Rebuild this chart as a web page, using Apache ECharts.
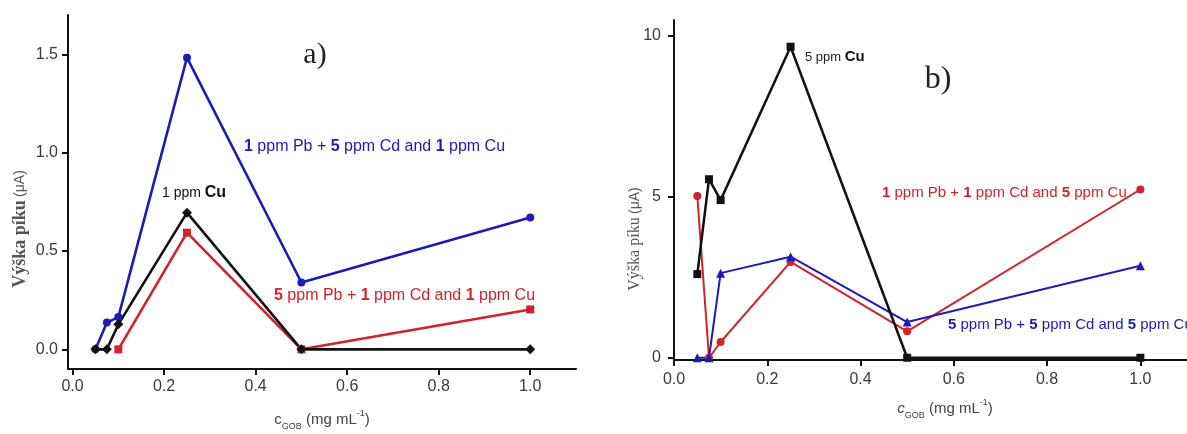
<!DOCTYPE html>
<html>
<head>
<meta charset="utf-8">
<script src="https://cdn.jsdelivr.net/npm/echarts@6/dist/echarts.min.js"></script>
<style>
  html, body { margin: 0; padding: 0; background: #fff; }
  #chart { width: 1187px; height: 434px; }
</style>
</head>
<body>
<div id="chart"></div>
<script>
// GO-B concentration (mg/mL) for each measured point
const concA = [0.05, 0.075, 0.1, 0.25, 0.5, 1.0];
const concRedA = [0.1, 0.25, 0.5, 1.0];
const concB = [0.05, 0.075, 0.1, 0.25, 0.5, 1.0];

// Panel a) peak heights (µA)
const aPb1Cd5Cu1 = [0, 0.136, 0.164, 1.483, 0.34, 0.67];
const aPb5Cd1Cu1 = [0, 0.593, 0, 0.203];
const aCu1 = [0, 0, 0.127, 0.695, 0, 0];

// Panel b) peak heights (µA)
const bPb1Cd1Cu5 = [5.03, 0, 0.49, 2.98, 0.82, 5.23];
const bPb5Cd5Cu5 = [0, 0, 2.63, 3.14, 1.11, 2.86];
const bCu5 = [2.6, 5.55, 4.9, 9.67, 0, 0];

// Tick values
const xTicks = [0, 0.2, 0.4, 0.6, 0.8, 1.0];
const yTicksA = [0, 0.5, 1.0, 1.5];
const yTicksB = [0, 5, 10];

const BLUE = '#1c1cb4';
const RED = '#d3232a';
const BLACK = '#111111';
const SANS = '"Liberation Sans", Arial, sans-serif';
const SERIF = '"Liberation Serif", "Times New Roman", serif';

function pairs(xs, ys) { return xs.map((x, i) => [x, ys[i]]); }

function xAxis(gridIndex, min, max, margin) {
  return {
    type: 'value', gridIndex, min, max,
    axisLine: { show: true, onZero: false, lineStyle: { color: BLACK, width: 2 } },
    axisTick: { show: true, length: 6, customValues: xTicks, lineStyle: { color: BLACK, width: 2 } },
    axisLabel: { customValues: xTicks, margin, color: '#3a3a3a', fontSize: 16, fontFamily: SANS,
                 formatter: v => v.toFixed(1) },
    splitLine: { show: false }
  };
}
function yAxis(gridIndex, min, max, ticks, margin, fmt) {
  return {
    type: 'value', gridIndex, min, max,
    axisLine: { show: true, onZero: false, lineStyle: { color: BLACK, width: 2 } },
    axisTick: { show: true, length: 6, customValues: ticks, lineStyle: { color: BLACK, width: 2 } },
    axisLabel: { customValues: ticks, margin, color: '#3a3a3a', fontSize: 16, fontFamily: SANS, formatter: fmt },
    splitLine: { show: false }
  };
}
function line(name, xi, data, color, symbol, width, size) {
  return {
    name, type: 'line', xAxisIndex: xi, yAxisIndex: xi, data,
    symbol, symbolSize: size, showSymbol: true,
    lineStyle: { color, width }, itemStyle: { color },
    animation: false, z: 3
  };
}

const boldRich = (color, size) => ({
  n: { fill: color, fontSize: size, fontFamily: SANS },
  b: { fill: color, fontSize: size, fontFamily: SANS, fontWeight: 'bold' }
});

function note(x, y, text, color, size) {
  return { type: 'text', x, y, z: 10,
    style: { text, fill: color, fontSize: size, fontFamily: SANS, verticalAlign: 'middle', rich: boldRich(color, size) } };
}

function xTitle(x, y, italic) {
  const c = '#444';
  return { type: 'text', x, y, z: 10,
    style: {
      text: '{c|c}{s|GOB}{t| (mg mL}{p|-1}{t|)}', align: 'center', verticalAlign: 'middle',
      rich: {
        c: { fill: c, fontSize: 15, fontFamily: SANS, fontStyle: italic ? 'italic' : 'normal', lineHeight: 22, verticalAlign: 'middle' },
        s: { fill: c, fontSize: 9, fontFamily: SANS, lineHeight: 10, verticalAlign: 'bottom' },
        t: { fill: c, fontSize: 15, fontFamily: SANS, lineHeight: 22, verticalAlign: 'middle' },
        p: { fill: c, fontSize: 9, fontFamily: SANS, lineHeight: 10, verticalAlign: 'top' }
      }
    } };
}

function yTitle(x, y, serifSize, bold, unitSize) {
  const c = '#555';
  return { type: 'text', x, y, rotation: Math.PI / 2, z: 10,
    style: {
      text: '{s|Výška píku} {u|(μA)}', align: 'center', verticalAlign: 'middle',
      rich: {
        s: { fill: c, fontSize: serifSize, fontFamily: SERIF, fontWeight: bold ? 'bold' : 'normal' },
        u: { fill: c, fontSize: unitSize, fontFamily: SANS }
      }
    } };
}

const chart = echarts.init(document.getElementById('chart'), null, { renderer: 'canvas' });
chart.setOption({
  animation: false,
  backgroundColor: '#ffffff',
  grid: [
    { left: 68, top: 15, width: 508, height: 354 },
    { left: 674, top: 20, width: 521, height: 340 }
  ],
  xAxis: [xAxis(0, -0.01, 1.1, 10), xAxis(1, 0, 1.1, 12)],
  yAxis: [
    yAxis(0, -0.1, 1.7, yTicksA, 10, v => v.toFixed(1)),
    yAxis(1, -0.07, 10.5, yTicksB, 13, v => String(v))
  ],
  series: [
    line('1 ppm Pb + 5 ppm Cd and 1 ppm Cu', 0, pairs(concA, aPb1Cd5Cu1), BLUE, 'circle', 2.6, 8),
    line('5 ppm Pb + 1 ppm Cd and 1 ppm Cu', 0, pairs(concRedA, aPb5Cd1Cu1), RED, 'rect', 2.6, 8),
    line('1 ppm Cu', 0, pairs(concA, aCu1), BLACK, 'diamond', 2.6, 10),
    line('1 ppm Pb + 1 ppm Cd and 5 ppm Cu', 1, pairs(concB, bPb1Cd1Cu5), RED, 'circle', 2, 8),
    line('5 ppm Pb + 5 ppm Cd and 5 ppm Cu', 1, pairs(concB, bPb5Cd5Cu5), BLUE, 'triangle', 2, 9),
    line('5 ppm Cu', 1, pairs(concB, bCu5), BLACK, 'rect', 2.5, 8)
  ],
  graphic: [
    { type: 'text', x: 315, y: 55, style: { text: 'a)', fill: '#222', fontSize: 30, fontFamily: SERIF, align: 'center', verticalAlign: 'middle' } },
    { type: 'text', x: 938, y: 80, style: { text: 'b)', fill: '#222', fontSize: 32, fontFamily: SERIF, align: 'center', verticalAlign: 'middle' } },
    note(244, 147, '{b|1}{n| ppm Pb + }{b|5}{n| ppm Cd and }{b|1}{n| ppm Cu}', BLUE, 16),
    note(274, 296, '{b|5}{n| ppm Pb + }{b|1}{n| ppm Cd and }{b|1}{n| ppm Cu}', RED, 16),
    { type: 'text', x: 162, y: 193, z: 10, style: { text: '{n|1 ppm }{b|Cu}', verticalAlign: 'middle',
      rich: { n: { fill: '#111', fontSize: 14, fontFamily: SANS }, b: { fill: '#111', fontSize: 16, fontWeight: 'bold', fontFamily: SANS } } } },
    note(882, 193, '{b|1}{n| ppm Pb + }{b|1}{n| ppm Cd and }{b|5}{n| ppm Cu}', RED, 15),
    note(948, 325, '{b|5}{n| ppm Pb + }{b|5}{n| ppm Cd and }{b|5}{n| ppm Cu}', BLUE, 15),
    { type: 'text', x: 805, y: 57, z: 10, style: { text: '{n|5 ppm }{b|Cu}', verticalAlign: 'middle',
      rich: { n: { fill: '#222', fontSize: 13, fontFamily: SANS }, b: { fill: '#111', fontSize: 15, fontWeight: 'bold', fontFamily: SANS } } } },
    xTitle(322, 420, false),
    xTitle(945, 409, true),
    yTitle(20, 229, 18, true, 14),
    yTitle(635, 239, 16, false, 14)
  ]
});
</script>
</body>
</html>
